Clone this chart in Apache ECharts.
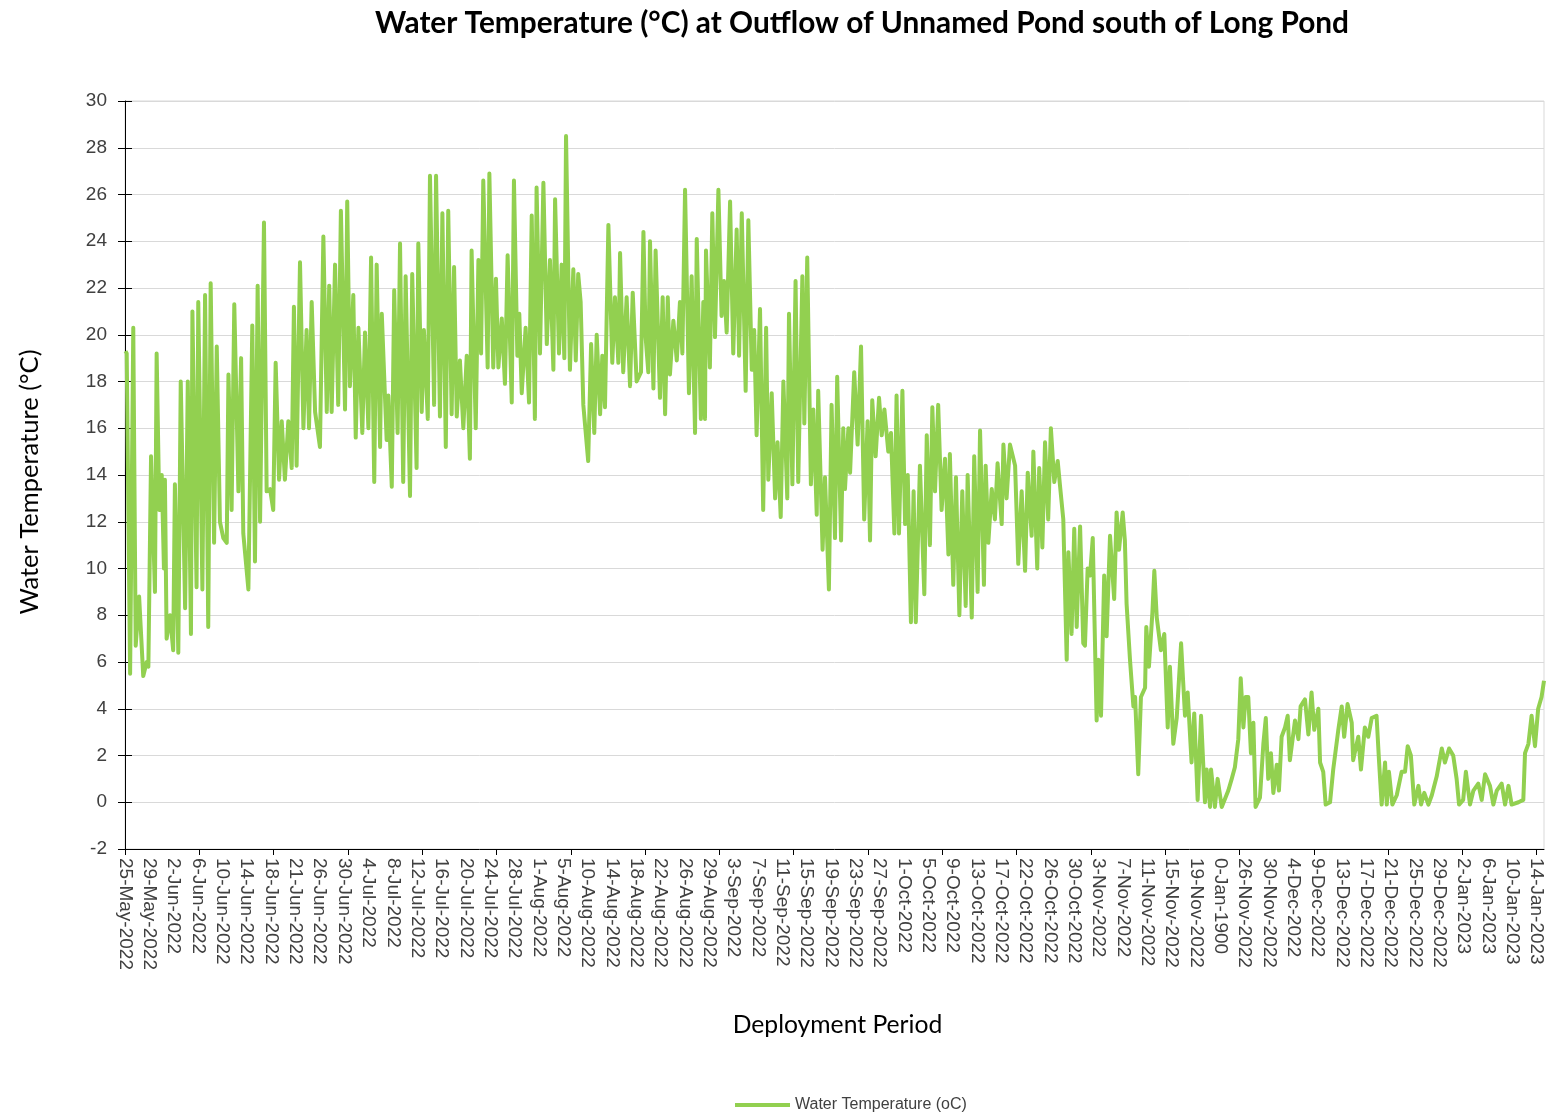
<!DOCTYPE html>
<html>
<head>
<meta charset="utf-8">
<script src="https://cdn.jsdelivr.net/npm/echarts@6/dist/echarts.min.js"></script>
<style>
  html, body { margin: 0; padding: 0; background: #fff; }
  #chart { width: 1552px; height: 1115px; }
</style>
</head>
<body>
<div id="chart"></div>
<script>
// x positions are in "label steps" (0 = first date label, 58 = last one)
var tickLabels = ['25-May-2022', '29-May-2022', '2-Jun-2022', '6-Jun-2022', '10-Jun-2022', '14-Jun-2022',
  '18-Jun-2022', '21-Jun-2022', '26-Jun-2022', '30-Jun-2022', '4-Jul-2022', '8-Jul-2022', '12-Jul-2022',
  '16-Jul-2022', '20-Jul-2022', '24-Jul-2022', '28-Jul-2022', '1-Aug-2022', '5-Aug-2022', '10-Aug-2022',
  '14-Aug-2022', '18-Aug-2022', '22-Aug-2022', '26-Aug-2022', '29-Aug-2022', '3-Sep-2022', '7-Sep-2022',
  '11-Sep-2022', '15-Sep-2022', '19-Sep-2022', '23-Sep-2022', '27-Sep-2022', '1-Oct-2022', '5-Oct-2022',
  '9-Oct-2022', '13-Oct-2022', '17-Oct-2022', '22-Oct-2022', '26-Oct-2022', '30-Oct-2022', '3-Nov-2022',
  '7-Nov-2022', '11-Nov-2022', '15-Nov-2022', '19-Nov-2022', '0-Jan-1900', '26-Nov-2022', '30-Nov-2022',
  '4-Dec-2022', '9-Dec-2022', '13-Dec-2022', '17-Dec-2022', '21-Dec-2022', '25-Dec-2022', '29-Dec-2022',
  '2-Jan-2023', '6-Jan-2023', '10-Jan-2023', '14-Jan-2023'];

var yTicks = [-2, 0, 2, 4, 6, 8, 10, 12, 14, 16, 18, 20, 22, 24, 26, 28, 30];

// water temperature readings [position, degC]
var mayJun = [[0.02,19.3],[0.07,19.2],[0.21,5.5],[0.34,20.3],[0.44,6.7],[0.58,8.8],[0.75,5.4],[0.89,6.0],[0.96,5.8],
  [1.07,14.8],[1.23,9.0],[1.30,19.2],[1.41,12.5],[1.51,14.0],[1.60,10.0],[1.64,13.8],[1.71,7.0],[1.85,8.0],[1.98,6.5],
  [2.05,13.6],[2.19,6.4],[2.29,18.0],[2.47,8.3],[2.58,18.0],[2.71,7.2],[2.77,21.0],[2.94,9.2],[3.01,21.4],[3.18,9.1],
  [3.29,21.7],[3.42,7.5],[3.52,22.2],[3.66,11.1],[3.77,19.5],[3.90,12.0],[4.04,11.3],[4.18,11.1],[4.25,18.3],[4.38,12.5],
  [4.49,21.3],[4.66,13.3],[4.77,19.0],[4.86,11.5],[5.07,9.1],[5.23,20.4],[5.34,10.3],[5.45,22.1],[5.55,12.0],[5.71,24.8],
  [5.82,13.3],[5.96,13.4],[6.09,12.5],[6.19,18.8],[6.33,13.8],[6.44,16.3],[6.57,13.8],[6.71,16.3],[6.85,14.3],[6.94,21.2],
  [7.05,14.4],[7.19,23.1],[7.33,16.0],[7.46,20.2],[7.56,16.0],[7.67,21.4],[7.81,16.7],[8.01,15.2],[8.15,24.2],[8.29,16.7],
  [8.39,22.1],[8.49,16.7],[8.63,23.0],[8.76,17.0],[8.87,25.3],[9.04,16.8],[9.13,25.7],[9.24,17.8],[9.38,21.7],[9.48,15.6],
  [9.59,20.3],[9.75,15.8],[9.86,20.1]];

var july = [[10.00,16.0],[10.11,23.3],[10.24,13.7],[10.34,23.0],[10.48,15.2],[10.55,20.9],[10.75,15.5],[10.82,17.4],
  [10.96,13.5],[11.06,21.9],[11.20,15.8],[11.30,23.9],[11.43,13.7],[11.53,22.5],[11.71,13.1],[11.80,22.6],[11.98,14.3],
  [12.05,23.9],[12.19,16.7],[12.28,20.2],[12.44,16.4],[12.53,26.8],[12.70,17.0],[12.78,26.8],[12.94,16.5],[13.04,25.2],
  [13.18,15.2],[13.28,25.3],[13.42,16.6],[13.52,22.9],[13.63,16.5],[13.76,18.9],[13.90,16.0],[14.04,19.1],[14.17,14.7],
  [14.24,23.6],[14.41,16.0],[14.52,23.2],[14.63,19.2],[14.72,26.6],[14.90,18.6],[14.97,26.9],[15.13,18.6],[15.24,22.4],
  [15.34,18.6],[15.48,20.7],[15.61,17.9],[15.72,23.4],[15.89,17.1],[15.98,26.6],[16.12,19.1],[16.20,20.9],[16.30,17.5],
  [16.46,20.3],[16.60,17.1],[16.71,25.1],[16.84,16.4],[16.91,26.3]];

var august = [[17.05,19.2],[17.19,26.5],[17.33,19.6],[17.46,23.2],[17.60,18.5],[17.67,25.8],[17.83,19.2],[17.94,23.0],
  [18.05,19.0],[18.12,28.5],[18.28,18.5],[18.42,22.8],[18.52,18.9],[18.62,22.6],[18.72,21.4],[18.83,17.0],[19.03,14.6],
  [19.15,19.6],[19.28,15.8],[19.38,20.0],[19.52,16.6],[19.61,19.1],[19.72,16.9],[19.86,24.7],[20.02,18.8],[20.13,21.6],
  [20.27,18.8],[20.34,23.5],[20.47,18.4],[20.61,21.6],[20.75,17.8],[20.86,21.8],[21.02,18.0],[21.20,18.4],[21.30,24.4],
  [21.39,19.9],[21.50,18.4],[21.57,24.0],[21.71,17.7],[21.80,23.6],[21.98,17.3],[22.09,21.6],[22.19,16.6],[22.30,21.6],
  [22.39,18.3],[22.53,20.6],[22.67,18.9],[22.80,21.4],[22.90,19.2],[23.01,26.2],[23.17,17.5],[23.28,22.5],[23.42,15.8],
  [23.49,24.1],[23.66,16.4],[23.76,21.4],[23.83,16.4],[23.87,23.6],[24.03,18.6],[24.13,25.2],[24.24,19.9],[24.38,26.2],
  [24.51,20.8],[24.61,22.3],[24.72,20.1],[24.86,25.7],[24.99,19.2]];

var september = [[25.13,24.5],[25.23,19.1],[25.34,25.2],[25.50,17.6],[25.61,24.9],[25.75,18.5],[25.85,20.2],[25.95,15.7],
  [26.09,21.1],[26.22,12.5],[26.34,20.3],[26.43,13.8],[26.57,17.5],[26.71,13.0],[26.81,15.4],[26.94,12.2],[27.05,18.0],
  [27.21,13.0],[27.28,20.9],[27.42,13.6],[27.55,22.3],[27.66,13.7],[27.83,22.5],[27.91,16.2],[28.03,23.3],[28.18,13.6],
  [28.28,16.8],[28.42,12.3],[28.48,17.6],[28.66,10.8],[28.76,13.9],[28.92,9.1],[29.03,17.0],[29.17,11.3],[29.26,18.2],
  [29.42,11.2],[29.51,16.0],[29.58,13.4],[29.72,16.0],[29.79,14.1],[29.96,18.4],[30.10,15.3],[30.24,19.5],[30.37,12.1],
  [30.51,16.3],[30.61,11.2],[30.70,17.2],[30.84,14.8],[30.98,17.3],[31.09,15.7],[31.20,16.8],[31.36,15.0],[31.47,15.8],
  [31.61,11.5],[31.70,17.4],[31.80,11.5],[31.94,17.6]];

var october = [[32.05,11.9],[32.16,14.0],[32.29,7.7],[32.40,13.3],[32.49,7.7],[32.66,14.4],[32.84,8.9],[32.94,15.7],
  [33.07,11.0],[33.17,16.9],[33.28,13.3],[33.41,17.0],[33.55,12.5],[33.69,14.7],[33.83,10.6],[33.89,14.9],[34.03,9.3],
  [34.14,13.9],[34.28,8.0],[34.40,13.3],[34.54,8.4],[34.62,14.0],[34.79,7.9],[34.89,14.8],[35.03,9.0],[35.13,15.9],
  [35.29,9.3],[35.36,14.4],[35.47,11.1],[35.61,13.4],[35.74,12.1],[35.85,14.5],[36.02,11.9],[36.09,15.3],[36.22,13.0],
  [36.36,15.3],[36.57,14.4],[36.70,10.2],[36.84,13.3],[36.98,9.9],[37.09,14.1],[37.25,11.4],[37.32,15.0],[37.48,10.0],
  [37.56,14.3],[37.69,10.9],[37.80,15.4],[37.93,12.1],[38.04,16.0],[38.18,13.7],[38.32,14.6],[38.41,13.6],[38.55,12.1],
  [38.69,6.1],[38.76,10.7],[38.89,7.2],[39.00,11.7],[39.10,7.5],[39.24,11.8],[39.37,6.8],[39.44,6.7],[39.55,10.0],
  [39.65,9.7],[39.76,11.3],[39.92,3.5]];

var november = [[39.99,6.1],[40.10,3.7],[40.23,9.7],[40.33,7.1],[40.47,11.4],[40.64,8.7],[40.74,12.4],[40.84,10.8],
  [40.99,12.4],[41.08,11.2],[41.15,8.5],[41.29,6.1],[41.43,4.1],[41.50,4.5],[41.63,1.2],[41.74,4.5],[41.91,4.9],[41.96,7.5],
  [42.07,5.8],[42.21,8.1],[42.29,9.9],[42.39,7.9],[42.56,6.5],[42.70,7.2],[42.84,3.2],[42.93,5.8],[43.07,2.5],[43.21,3.6],
  [43.39,6.8],[43.55,3.7],[43.66,4.7],[43.82,1.7],[43.93,3.8],[44.07,0.1],[44.21,3.7],[44.37,0.0],[44.44,1.4],[44.58,-0.2],
  [44.62,1.4],[44.78,-0.2],[44.89,1.0],[45.06,-0.2],[45.33,0.5],[45.47,1.0],[45.60,1.5],[45.74,2.7],[45.84,5.3],[45.95,3.2],
  [46.04,4.5],[46.15,4.5],[46.26,2.1],[46.36,3.4],[46.45,-0.2],[46.63,0.2],[46.77,2.5],[46.87,3.6],[46.97,1.0],[47.08,2.1],
  [47.18,0.4],[47.32,1.6],[47.41,0.5],[47.52,2.8],[47.66,3.2],[47.77,3.7],[47.86,1.8]];

var decJan = [[48.07,3.5],[48.21,2.7],[48.30,4.1],[48.48,4.4],[48.62,2.9],[48.75,4.7],[48.86,3.1],[49.03,4.0],[49.10,1.7],
  [49.23,1.3],[49.33,-0.1],[49.51,0.0],[49.64,1.4],[49.85,3.1],[49.99,4.1],[50.09,2.8],[50.23,4.2],[50.40,3.4],[50.46,1.8],
  [50.67,2.8],[50.78,1.4],[50.94,3.2],[51.08,2.8],[51.22,3.6],[51.42,3.7],[51.52,1.8],[51.63,-0.1],[51.77,1.7],[51.84,-0.1],
  [51.93,1.3],[52.07,-0.1],[52.25,0.3],[52.45,1.3],[52.59,1.3],[52.70,2.4],[52.83,2.0],[52.97,-0.1],[53.14,0.7],[53.25,-0.1],
  [53.38,0.4],[53.55,-0.1],[53.69,0.3],[53.89,1.1],[54.10,2.3],[54.23,1.7],[54.40,2.3],[54.57,2.0],[54.71,1.0],[54.81,-0.1],
  [54.98,0.1],[55.09,1.3],[55.26,-0.1],[55.40,0.5],[55.60,0.8],[55.74,0.1],[55.88,1.2],[56.08,0.7],[56.22,-0.1],[56.36,0.5],
  [56.56,0.8],[56.70,-0.1],[56.84,0.7],[56.97,-0.1],[57.25,0.0],[57.45,0.1],[57.52,2.1],[57.66,2.5],[57.79,3.7],[57.93,2.4],
  [58.06,4.0],[58.20,4.5],[58.30,5.2]];

var waterTemp = [].concat(mayJun, july, august, september, october, november, decJan);

// label at every date step, tick marks every 19th of the span (as in the source sheet)
var labelPos = tickLabels.map(function (l, i) { return i; });
var tickPos = [];
for (var k = 0; k <= 19; k++) tickPos.push(k * 58 / 19);

var chart = echarts.init(document.getElementById('chart'));
var option = {
  animation: false,
  backgroundColor: '#fff',
  title: {
    text: 'Water Temperature (°C) at Outflow of Unnamed Pond south of Long Pond',
    left: 857,
    top: 3,
    textAlign: 'center',
    textStyle: { fontFamily: 'Lato', fontWeight: 'bold', fontSize: 29.8, color: '#000' }
  },
  legend: {
    left: 730,
    top: 1092,
    itemWidth: 55,
    itemHeight: 4,
    icon: 'rect',
    textStyle: { fontFamily: 'Liberation Sans', fontSize: 16, color: '#404040' },
    data: ['Water Temperature (oC)']
  },
  grid: {
    left: 125,
    right: 8,
    top: 101,
    bottom: 266,
    show: true,
    borderColor: '#d9d9d9',
    borderWidth: 1
  },
  xAxis: {
    type: 'value',
    min: 0,
    max: 58.3,
    name: 'Deployment Period',
    nameLocation: 'middle',
    nameGap: 164,
    nameTextStyle: { fontFamily: 'Lato', fontSize: 24.7, color: '#000', padding: [0, 0, 0, 6] },
    axisLine: { show: true, onZero: false, lineStyle: { color: '#000', width: 1 } },
    axisTick: { show: true, length: 6, customValues: tickPos, lineStyle: { color: '#000' } },
    axisLabel: {
      customValues: labelPos,
      rotate: -90,
      margin: 9,
      fontFamily: 'Liberation Sans',
      fontSize: 19,
      color: '#404040',
      formatter: function (v) { return tickLabels[Math.round(v)] || ''; }
    },
    splitLine: { show: false }
  },
  yAxis: [{
    type: 'value',
    min: -2,
    max: 30,
    interval: 2,
    name: 'Water Temperature (°C)',
    nameLocation: 'middle',
    nameGap: 82,
    nameTextStyle: { fontFamily: 'Lato', fontSize: 25.5, color: '#000', padding: [0, 14, 0, 0] },
    axisLine: { show: true, lineStyle: { color: '#000', width: 1 } },
    axisTick: { show: true, length: 7, lineStyle: { color: '#000' } },
    axisLabel: {
      margin: 18,
      fontFamily: 'Liberation Sans',
      fontSize: 19,
      color: '#404040',
      customValues: yTicks
    },
    splitLine: { show: true, lineStyle: { color: '#d9d9d9', width: 1 } }
  }, {
    // inner half of the crossing tick marks
    type: 'value',
    min: -2,
    max: 30,
    interval: 2,
    position: 'left',
    axisLine: { show: false },
    axisTick: { show: true, inside: true, length: 7, lineStyle: { color: '#000' } },
    axisLabel: { show: false },
    splitLine: { show: false }
  }],
  series: [{
    name: 'Water Temperature (oC)',
    type: 'line',
    data: waterTemp,
    showSymbol: false,
    symbol: 'none',
    lineStyle: { color: '#92D050', width: 4, join: 'round' },
    itemStyle: { color: '#92D050' }
  }]
};
chart.setOption(option);
</script>
</body>
</html>
